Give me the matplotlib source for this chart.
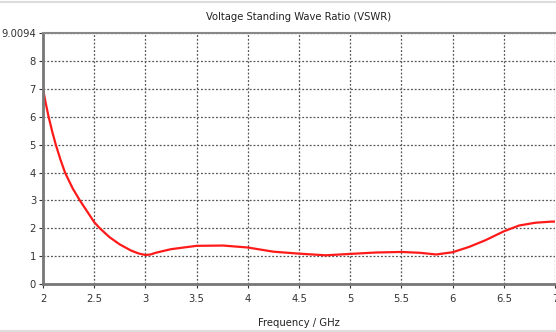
import numpy as np
import matplotlib.pyplot as plt
from matplotlib.lines import Line2D
from matplotlib import font_manager as fm

# VSWR curve
freq = [2.0, 2.025, 2.055, 2.09, 2.125, 2.17, 2.215, 2.29, 2.36, 2.45, 2.5,
        2.555, 2.65, 2.75, 2.86, 2.93, 3.0, 3.05, 3.1, 3.25, 3.5, 3.76, 4.0,
        4.25, 4.5, 4.76, 5.0, 5.25, 5.5, 5.68, 5.84, 6.0, 6.16, 6.32, 6.5,
        6.65, 6.81, 6.97, 7.0]
vswr = [7.0, 6.52, 6.0, 5.47, 5.0, 4.47, 4.0, 3.43, 3.0, 2.5, 2.22,
        2.0, 1.68, 1.42, 1.2, 1.1, 1.04, 1.06, 1.12, 1.25, 1.37, 1.38, 1.31,
        1.16, 1.09, 1.03, 1.08, 1.13, 1.15, 1.12, 1.06, 1.14, 1.33, 1.57, 1.89,
        2.1, 2.2, 2.24, 2.24]

y_max = 9.0094
y_ticks = [0, 1, 2, 3, 4, 5, 6, 7, 8, y_max]
y_labels = ['0', '1', '2', '3', '4', '5', '6', '7', '8', '9.0094']
x_ticks = [2, 2.5, 3, 3.5, 4, 4.5, 5, 5.5, 6, 6.5, 7]
x_labels = ['2', '2.5', '3', '3.5', '4', '4.5', '5', '5.5', '6', '6.5', '7']

# the reference uses a narrow UI font; use a condensed face if one is installed
narrow = []
for f in fm.fontManager.ttflist:
    if ('Narrow' in f.name or 'Condensed' in f.name
            or str(f.stretch) in ('condensed', 'semi-condensed', 'extra-condensed')):
        if f.name not in narrow and 'Mono' not in f.name and 'Serif' not in f.name:
            narrow.append(f.name)
plt.rcParams['font.family'] = narrow[:1] + ['DejaVu Sans']
plt.rcParams['font.stretch'] = 'condensed'

dpi = 100
fig = plt.figure(figsize=(556/dpi, 332/dpi), dpi=dpi)
ax = fig.add_axes([43/556, 1 - 284/332, 512/556, 251/332])

ax.plot(freq, vswr, color='#ff1a1a', lw=1.6)

ax.set_xlim(2, 7)
ax.set_ylim(0, y_max)
ax.set_xticks(x_ticks)
ax.set_xticklabels(x_labels)
ax.set_yticks(y_ticks)
ax.set_yticklabels(y_labels)
ax.tick_params(labelsize=8, colors='#333333', length=3, width=0.8)
ax.tick_params(axis='x', pad=4)
ax.tick_params(axis='y', pad=2)
ax.grid(True, ls=(0, (1.5, 1.5)), color='#555555', lw=0.9)

for side in ['left', 'bottom']:
    ax.spines[side].set_color('#777777')
    ax.spines[side].set_linewidth(2)
ax.spines['top'].set_color('#888888')
ax.spines['top'].set_linewidth(1.5)
ax.spines['right'].set_visible(False)

ax.set_title('Voltage Standing Wave Ratio (VSWR)', fontsize=8, color='#222222', pad=9)
ax.set_xlabel('Frequency / GHz', fontsize=8, color='#222222', labelpad=10.5)

# light window borders at top and bottom
fig.add_artist(Line2D([0, 1], [1 - 1.5/332, 1 - 1.5/332], color='#dddddd', lw=1.5))
fig.add_artist(Line2D([0, 1], [1.5/332, 1.5/332], color='#dddddd', lw=1.5))

fig.savefig('out.png', dpi=dpi)
